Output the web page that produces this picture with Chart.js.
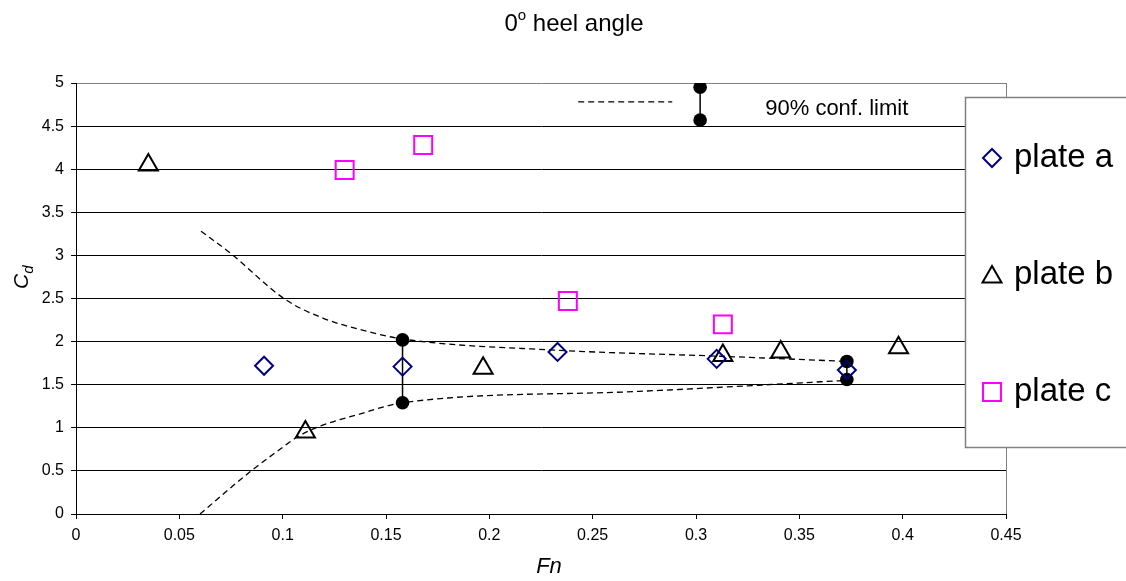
<!DOCTYPE html>
<html>
<head>
<meta charset="utf-8">
<script src="https://cdn.jsdelivr.net/npm/chart.js@4"></script>
<style>
  html, body { margin: 0; padding: 0; background: #fff; }
  #wrap { width: 1126px; height: 581px; position: relative; }
</style>
</head>
<body>
<div id="wrap"><canvas id="cdChart"></canvas></div>
<script>
// series values (Fn, Cd)
const fnA = [0.091, 0.158, 0.233, 0.310, 0.373];
const cdA = [1.72, 1.71, 1.88, 1.80, 1.67];
const fnB = [0.035, 0.111, 0.197, 0.313, 0.341, 0.398];
const cdB = [4.05, 0.95, 1.69, 1.84, 1.88, 1.93];
const fnC = [0.130, 0.168, 0.238, 0.313];
const cdC = [3.99, 4.28, 2.47, 2.20];

// 90% confidence limits (error bars + dashed envelope)
const ciFn = [0.158, 0.373];
const ciLow = [1.29, 1.56];
const ciHigh = [2.02, 1.77];
const upperFn = [0.0605, 0.0745, 0.1012, 0.1197, 0.1407, 0.158, 0.233, 0.312, 0.373];
const upperCd = [3.28, 3.03, 2.49, 2.27, 2.12, 2.03, 1.90, 1.83, 1.77];
const lowerFn = [0.060, 0.0842, 0.0987, 0.1068, 0.1181, 0.1359, 0.158, 0.270, 0.373];
const lowerCd = [0.00, 0.49, 0.75, 0.89, 1.02, 1.15, 1.29, 1.42, 1.55];

// the little key drawn inside the plot for the confidence limit
const keyDashFn = [0.243, 0.2885];
const keyDashCd = [4.78, 4.78];
const keyBarFn = [0.302, 0.302];
const keyBarCd = [4.57, 4.95];

const seriesNames = ['plate a', 'plate b', 'plate c'];
const confLabel = '90% conf. limit';
const chartTitle = ['0', 'o', ' heel angle'];
const xLabel = 'Fn';
const yLabel = ['C', 'd'];

// axis ranges / tick spacing
const xMin = 0, xMax = 0.45, xStep = 0.05;
const yMin = 0, yMax = 5, yStep = 0.5;

const FONT = '"Liberation Sans", Arial, sans-serif';

function pts(xs, ys) {
    return xs.map((x, i) => ({ x: x, y: ys[i] }));
}

function markerSet(label, xs, ys, style, radius, color) {
    return {
        label: label,
        data: pts(xs, ys),
        showLine: false,
        pointStyle: style,
        pointRadius: radius,
        pointHoverRadius: radius,
        pointBorderColor: color,
        pointBackgroundColor: 'rgba(0,0,0,0)',
        pointBorderWidth: 2,
        pointHoverBorderWidth: 2,
        borderColor: color
    };
}

function dashSet(xs, ys) {
    return {
        data: pts(xs, ys),
        showLine: true,
        borderColor: '#000',
        borderWidth: 1.3,
        borderDash: [6, 4],
        pointRadius: 0,
        pointHoverRadius: 0,
        tension: 0.4,
        cubicInterpolationMode: 'monotone'
    };
}

function barSet(xs, ys) {
    return {
        data: pts(xs, ys),
        showLine: true,
        borderColor: '#000',
        borderWidth: 1.5,
        pointStyle: 'circle',
        pointRadius: 6.8,
        pointHoverRadius: 6.8,
        pointBackgroundColor: '#000',
        pointBorderColor: '#000',
        pointBorderWidth: 0
    };
}

const datasets = [
    markerSet(seriesNames[0], fnA, cdA, 'rectRot', 9, '#000080'),
    markerSet(seriesNames[1], fnB, cdB, 'triangle', 11, '#000000'),
    markerSet(seriesNames[2], fnC, cdC, 'rect', 12.7, '#FF00FF'),
    dashSet(upperFn, upperCd),
    dashSet(lowerFn, lowerCd),
    dashSet(keyDashFn, keyDashCd),
    barSet(keyBarFn, keyBarCd)
];
ciFn.forEach((f, i) => {
    datasets.push(barSet([f, f], [ciLow[i], ciHigh[i]]));
});

function drawMarker(ctx, style, x, y, r, color) {
    ctx.save();
    ctx.strokeStyle = color;
    ctx.lineWidth = 2;
    ctx.beginPath();
    if (style === 'rectRot') {
        ctx.moveTo(x - r, y); ctx.lineTo(x, y - r);
        ctx.lineTo(x + r, y); ctx.lineTo(x, y + r);
    } else if (style === 'triangle') {
        for (let k = 0; k < 3; k++) {
            const a = k * 2 * Math.PI / 3;
            const px = x + Math.sin(a) * r, py = y - Math.cos(a) * r;
            if (k === 0) ctx.moveTo(px, py); else ctx.lineTo(px, py);
        }
    } else {
        const h = r * Math.SQRT1_2;
        ctx.rect(x - h, y - h, 2 * h, 2 * h);
    }
    ctx.closePath();
    ctx.stroke();
    ctx.restore();
}

// titles, the boxed legend on the right and the conf. limit text
const extrasPlugin = {
    id: 'extras',
    afterDraw(chart) {
        const ctx = chart.ctx;
        const area = chart.chartArea;
        const xs = chart.scales.x, ys = chart.scales.y;

        // right border of the plot area (gray)
        ctx.save();
        ctx.strokeStyle = '#808080';
        ctx.lineWidth = 1;
        ctx.beginPath();
        ctx.moveTo(Math.round(area.right) + 0.5, area.top);
        ctx.lineTo(Math.round(area.right) + 0.5, area.bottom);
        ctx.stroke();
        ctx.restore();

        // chart title with superscript o
        ctx.save();
        ctx.fillStyle = '#000';
        ctx.textBaseline = 'alphabetic';
        ctx.font = '24px ' + FONT;
        const w0 = ctx.measureText(chartTitle[0]).width;
        const w2 = ctx.measureText(chartTitle[2]).width;
        ctx.font = '15px ' + FONT;
        const w1 = ctx.measureText(chartTitle[1]).width;
        let tx = 574 - (w0 + w1 + w2) / 2;
        ctx.font = '24px ' + FONT;
        ctx.fillText(chartTitle[0], tx, 31);
        ctx.font = '15px ' + FONT;
        ctx.fillText(chartTitle[1], tx + w0, 20);
        ctx.font = '24px ' + FONT;
        ctx.fillText(chartTitle[2], tx + w0 + w1, 31);

        // x axis title
        ctx.font = 'italic 22px ' + FONT;
        ctx.textAlign = 'center';
        ctx.textBaseline = 'middle';
        ctx.fillText(xLabel, 549, 567);

        // y axis title C_d, rotated
        ctx.translate(28, 289);
        ctx.rotate(-Math.PI / 2);
        ctx.textAlign = 'left';
        ctx.textBaseline = 'alphabetic';
        ctx.font = 'italic 21px ' + FONT;
        ctx.fillText(yLabel[0], 0, 0);
        const cw = ctx.measureText(yLabel[0]).width;
        ctx.font = 'italic 15px ' + FONT;
        ctx.fillText(yLabel[1], cw, 5);
        ctx.restore();

        // conf. limit text beside its key
        ctx.save();
        ctx.fillStyle = '#000';
        ctx.font = '22px ' + FONT;
        ctx.textBaseline = 'middle';
        ctx.fillText(confLabel, xs.getPixelForValue(0.3335), ys.getPixelForValue(4.70));
        ctx.restore();

        // boxed legend, overlapping the plot on the right
        ctx.save();
        ctx.fillStyle = '#fff';
        ctx.fillRect(965, 97, 170, 350);
        ctx.strokeStyle = '#808080';
        ctx.lineWidth = 1.5;
        ctx.strokeRect(965.5, 97.5, 170, 350);
        const rowsY = [158, 275, 392];
        const styles = ['rectRot', 'triangle', 'rect'];
        const radii = [9, 11, 12.7];
        const colors = ['#000080', '#000000', '#FF00FF'];
        ctx.font = '33px ' + FONT;
        ctx.fillStyle = '#000';
        ctx.textBaseline = 'middle';
        seriesNames.forEach((name, i) => {
            const my = styles[i] === 'triangle' ? rowsY[i] + 2 : rowsY[i];
            drawMarker(ctx, styles[i], 992, my, radii[i], colors[i]);
            ctx.fillText(name, 1014, rowsY[i]);
        });
        ctx.restore();
    }
};

new Chart(document.getElementById('cdChart'), {
    type: 'scatter',
    data: { datasets: datasets },
    options: {
        responsive: true,
        maintainAspectRatio: false,
        animation: false,
        layout: { padding: { top: 83, right: 120, left: 0, bottom: 0 } },
        plugins: {
            legend: { display: false },
            title: { display: false },
            tooltip: { enabled: false }
        },
        scales: {
            x: {
                type: 'linear',
                min: xMin,
                max: xMax,
                afterFit: function(scale) { scale.height = 67; },
                border: { display: true, color: '#000', width: 1 },
                grid: {
                    drawOnChartArea: false,
                    drawTicks: true,
                    tickLength: 5,
                    color: '#000'
                },
                ticks: {
                    stepSize: xStep,
                    color: '#000',
                    padding: 7,
                    maxRotation: 0,
                    font: { family: FONT, size: 16 },
                    callback: function(v) { return String(+v.toFixed(2)); }
                }
            },
            y: {
                type: 'linear',
                min: yMin,
                max: yMax,
                afterFit: function(scale) { scale.width = 76; },
                border: { display: true, color: '#000', width: 1 },
                grid: {
                    drawTicks: true,
                    tickLength: 5,
                    color: function(c) {
                        return c.tick && Math.abs(c.tick.value - yMax) < 1e-9 ? '#808080' : '#000';
                    },
                    tickColor: '#000'
                },
                ticks: {
                    stepSize: yStep,
                    color: '#000',
                    padding: 7,
                    font: { family: FONT, size: 16 },
                    callback: function(v) { return String(+v.toFixed(1)); }
                }
            }
        }
    },
    plugins: [extrasPlugin]
});
</script>
</body>
</html>
